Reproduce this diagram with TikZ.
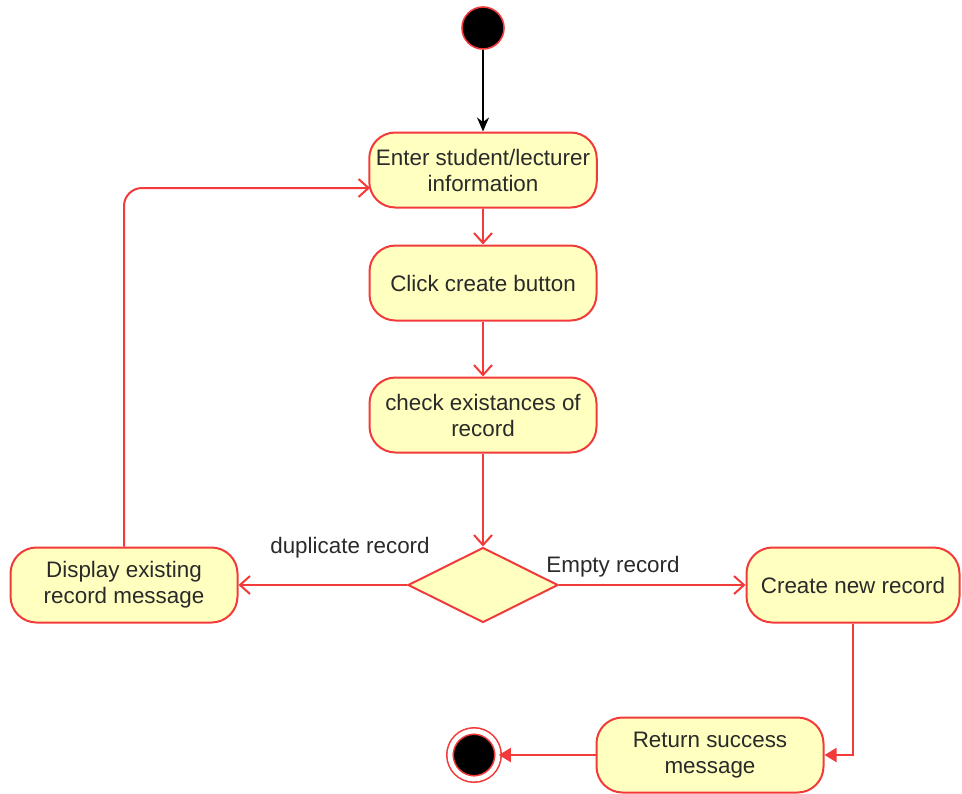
\documentclass[tikz,border=0pt]{standalone}
\usepackage{fontspec}
\setmainfont{Liberation Sans}
\usetikzlibrary{shapes.geometric,arrows.meta}
\definecolor{actfill}{HTML}{FFFFC0}
\definecolor{actline}{HTML}{F23A3A}
\definecolor{acttext}{HTML}{2A2A2A}
\tikzset{
  actbox/.style={draw=actline,fill=actfill,line width=1pt,rounded corners=13pt,
    minimum width=113.5pt,minimum height=37.5pt,align=center,text=acttext,
    font=\fontsize{11.2}{13}\selectfont},
  decision/.style={draw=actline,fill=actfill,line width=1pt,diamond,aspect=2,
    minimum width=75pt,minimum height=37.5pt,inner sep=0pt},
  startdot/.style={circle,draw=actline,fill=black,line width=0.8pt,minimum size=21pt,inner sep=0pt},
  enddot/.style={circle,draw=actline,fill=black,line width=0.8pt,minimum size=24pt,inner sep=0pt,
    double=white,double distance=2.4pt},
  flow/.style={draw=actline,line width=1pt,-{Straight Barb[length=5pt,width=9pt]}},
  flowfill/.style={draw=actline,line width=1pt,-{Triangle[length=6pt,width=7pt]}},
  guard/.style={text=acttext,font=\fontsize{11.2}{13}\selectfont}
}

\begin{document}
\begin{tikzpicture}[x=0.5pt,y=-0.5pt]
    \useasboundingbox (0,0) rectangle (962,793);
    \node[startdot] (start) at (483,28) {};
    \node[actbox] (enter) at (483,170) {Enter student/lecturer\\information};
    \node[actbox] (click) at (483,283) {Click create button};
    \node[actbox] (check) at (483,415) {check existances of\\record};
    \node[decision] (dec) at (483,585) {};
    \node[actbox] (display) at (124,585) {Display existing\\record message};
    \node[actbox,minimum width=106.5pt] (create) at (853,585) {Create new record};
    \node[actbox] (ret) at (710,755) {Return success\\message};
    \node[enddot] (stop) at (474,755) {};
    \coordinate (loopin) at (370,188);
    \draw[line width=1pt,-{Stealth[length=7pt,width=6pt]}] (start) -- (enter);
    \draw[flow] (enter) -- (click);
    \draw[flow] (click) -- (check);
    \draw[flow] (check) -- (dec);
    \draw[flow] (dec) -- (display);
    \draw[flow] (dec) -- (create);
    \draw[flow,rounded corners=9pt] (display.north) |- (loopin);
    \draw[flowfill] (create.south) |- (ret.east);
    \draw[flowfill] (ret) -- (stop);
    \node[guard] (dup) at (350,548) {duplicate record};
    \node[guard] (empty) at (613,567) {Empty record};
\end{tikzpicture}
\end{document}
